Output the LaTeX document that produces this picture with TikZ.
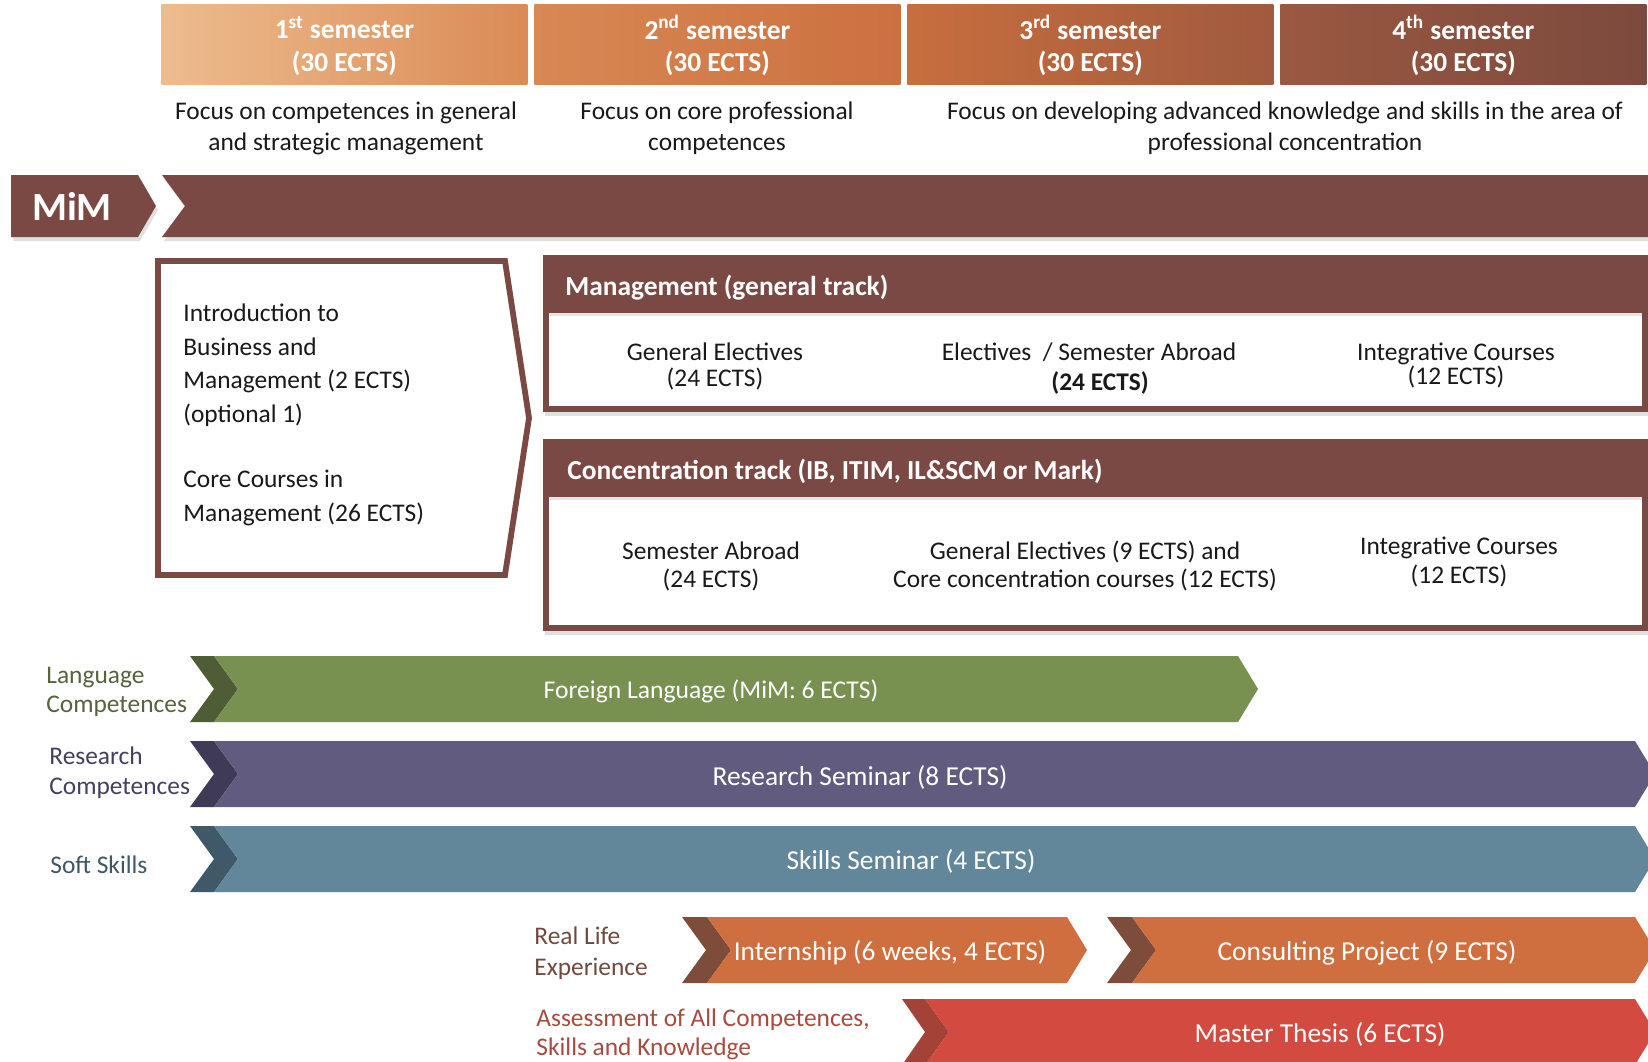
\documentclass[tikz,border=0pt]{standalone}
\usepackage{fontspec}
\setmainfont{Carlito}
\definecolor{mimbrown}{RGB}{123,73,68}
\definecolor{hA}{RGB}{237,188,142}
\definecolor{hB}{RGB}{218,139,86}
\definecolor{hC}{RGB}{216,136,84}
\definecolor{hD}{RGB}{204,112,64}
\definecolor{hE}{RGB}{200,110,62}
\definecolor{hF}{RGB}{160,90,63}
\definecolor{hG}{RGB}{154,88,64}
\definecolor{hH}{RGB}{124,74,62}
\definecolor{green1}{RGB}{120,144,80}
\definecolor{green2}{RGB}{78,93,54}
\definecolor{purple1}{RGB}{97,91,127}
\definecolor{purple2}{RGB}{63,59,86}
\definecolor{blue1}{RGB}{98,135,154}
\definecolor{blue2}{RGB}{63,89,104}
\definecolor{orange1}{RGB}{207,111,63}
\definecolor{orange2}{RGB}{126,76,58}
\definecolor{red1}{RGB}{210,74,64}
\definecolor{red2}{RGB}{163,67,56}
\definecolor{labgreen}{RGB}{86,99,63}
\definecolor{labpurple}{RGB}{69,64,94}
\definecolor{labblue}{RGB}{63,88,104}
\definecolor{labbrown}{RGB}{110,75,62}
\definecolor{labred}{RGB}{166,75,63}
\begin{document}
\begin{tikzpicture}[x=0.5pt,y=-0.5pt,
  bodytxt/.style={font=\fontsize{12.7}{15.3}\selectfont, inner sep=0pt, align=center, text=black!90, yshift=-1.2pt},
  semtxt/.style={font=\fontsize{13.7}{16.3}\selectfont\bfseries, inner sep=0pt, align=center, text=white, yshift=-0.7pt},
  headtxt/.style={font=\fontsize{13.7}{16.3}\selectfont\bfseries, inner sep=0pt, anchor=west, text=white, yshift=-1.2pt},
  bandtxt/.style={font=\fontsize{13.7}{16.3}\selectfont, inner sep=0pt, text=white, yshift=-1.4pt},
  labtxt/.style={font=\fontsize{12.7}{14.5}\selectfont, inner sep=0pt, anchor=west, align=left, yshift=-1.4pt},
  semhead/.style={minimum width=183pt, minimum height=40pt, inner sep=0pt, anchor=north west},
]
\useasboundingbox (0,0) rectangle (1648,1061);
\clip (0,0) rectangle (1648,1061);
\fill[white] (0,0) rectangle (1648,1061);

% semester headers
\node[semhead, left color=hA, right color=hB] (s1) at (161,4) {};
\node[semhead, left color=hC, right color=hD] (s2) at (534,4) {};
\node[semhead, left color=hE, right color=hF] (s3) at (907,4) {};
\node[semhead, left color=hG, right color=hH] (s4) at (1280,4) {};
\node[semtxt] (s1t) at (s1.center) {1\textsuperscript{st} semester\\(30 ECTS)};
\node[semtxt] (s2t) at (s2.center) {2\textsuperscript{nd} semester\\(30 ECTS)};
\node[semtxt] (s3t) at (s3.center) {3\textsuperscript{rd} semester\\(30 ECTS)};
\node[semtxt] (s4t) at (s4.center) {4\textsuperscript{th} semester\\(30 ECTS)};

% focus texts
\node[bodytxt, font=\fontsize{12.7}{15.5}\selectfont] (f1) at (346,126) {Focus on competences in general\\and strategic management};
\node[bodytxt, font=\fontsize{12.7}{15.5}\selectfont] (f2) at (717,126) {Focus on core professional\\competences};
\node[bodytxt, font=\fontsize{12.7}{15.5}\selectfont] (f3) at (1285,126) {Focus on developing advanced knowledge and skills in the area of\\professional concentration};

% MiM band
\fill[black!12] (13,179) -- (140,179) -- (158,210) -- (140,241) -- (13,241) -- cycle;
\fill[black!12] (164,179) -- (1648,179) -- (1648,241) -- (164,241) -- (187,210) -- cycle;
\fill[mimbrown] (11,175) -- (138,175) -- (156,206) -- (138,237) -- (11,237) -- cycle;
\fill[mimbrown] (162,175) -- (1648,175) -- (1648,237) -- (162,237) -- (185,206) -- cycle;
\node[font=\fontsize{20}{24}\selectfont\bfseries, text=white, inner sep=0pt] (mim) at (72,206) {MiM};

% intro box
\draw[mimbrown, line width=2.9pt, line join=miter] (158,261) -- (505,261) -- (529,418) -- (505,575) -- (158,575) -- cycle;
\node[labtxt, anchor=north west, font=\fontsize{12.7}{16.75}\selectfont, text=black!90] (intro) at (183,301)
  {Introduction to\\Business and\\Management (2 ECTS)\\(optional 1)};
\node[labtxt, anchor=north west, font=\fontsize{12.7}{16.75}\selectfont, text=black!90] (core) at (183,467)
  {Core Courses in\\Management (26 ECTS)};

% management box
\fill[black!12] (545,259) rectangle (1648,416);
\fill[mimbrown] (543,255) rectangle (1648,412);
\fill[white] (549,313) rectangle (1642,406);
\fill[black!10] (549,313) rectangle (1642,316);
\node[headtxt] (mgt) at (565,285) {Management (general track)};
\node[bodytxt, font=\fontsize{12.7}{13}\selectfont] (m1) at (715,364) {General Electives\\(24 ECTS)};
\node[bodytxt, font=\fontsize{12.7}{15}\selectfont] (m2) at (1089,366) {Electives \ / Semester Abroad\\\hspace*{11pt}\textbf{(24 ECTS)}};
\node[bodytxt, font=\fontsize{12.7}{12}\selectfont] (m3) at (1456,363) {Integrative Courses\\(12 ECTS)};

% concentration box
\fill[black!12] (545,443) rectangle (1648,635);
\fill[mimbrown] (543,439) rectangle (1648,631);
\fill[white] (549,497) rectangle (1642,625);
\fill[black!10] (549,497) rectangle (1642,500);
\node[headtxt] (conc) at (567,469) {Concentration track (IB, ITIM, IL\&SCM or Mark)};
\node[bodytxt, font=\fontsize{12.7}{14}\selectfont] (c1) at (711,564) {Semester Abroad\\(24 ECTS)};
\node[bodytxt, font=\fontsize{12.7}{14}\selectfont] (c2) at (1085,564) {General Electives (9 ECTS) and\\Core concentration courses (12 ECTS)};
\node[bodytxt, font=\fontsize{12.7}{14.5}\selectfont] (c3) at (1459,560) {Integrative Courses\\(12 ECTS)};

% language band
\fill[green2] (190,656) -- (214,656) -- (238,689) -- (214,722) -- (190,722) -- (214,689) -- cycle;
\fill[green1] (214,656) -- (1238,656) -- (1258,689) -- (1238,722) -- (214,722) -- (238,689) -- cycle;
\node[bandtxt, font=\fontsize{12.8}{15}\selectfont] (lang) at (711,689) {Foreign Language (MiM: 6 ECTS)};
\node[labtxt, text=labgreen] (langl) at (46,689) {Language\\Competences};

% research band
\fill[purple2] (190,741) -- (214,741) -- (238,774) -- (214,807) -- (190,807) -- (214,774) -- cycle;
\fill[purple1] (214,741) -- (1635,741) -- (1655,774) -- (1635,807) -- (214,807) -- (238,774) -- cycle;
\node[bandtxt] (res) at (860,775) {Research Seminar (8 ECTS)};
\node[labtxt, text=labpurple, font=\fontsize{12.7}{15}\selectfont] (resl) at (49,770) {Research\\Competences};

% soft skills band
\fill[blue2] (190,826) -- (214,826) -- (238,859) -- (214,892) -- (190,892) -- (214,859) -- cycle;
\fill[blue1] (214,826) -- (1635,826) -- (1655,859) -- (1635,892) -- (214,892) -- (238,859) -- cycle;
\node[bandtxt] (soft) at (911,859) {Skills Seminar (4 ECTS)};
\node[labtxt, text=labblue] (softl) at (50,862) {Soft Skills};

% real life
\fill[orange2] (682,917) -- (707,917) -- (731,950) -- (707,983) -- (682,983) -- (706,950) -- cycle;
\fill[orange1] (707,917) -- (1067,917) -- (1087,950) -- (1067,983) -- (707,983) -- (731,950) -- cycle;
\node[bandtxt] (intern) at (890,950) {Internship (6 weeks, 4 ECTS)};
\fill[orange2] (1107,917) -- (1132,917) -- (1156,950) -- (1132,983) -- (1107,983) -- (1131,950) -- cycle;
\fill[orange1] (1132,917) -- (1635,917) -- (1655,950) -- (1635,983) -- (1132,983) -- (1156,950) -- cycle;
\node[bandtxt] (consult) at (1367,950) {Consulting Project (9 ECTS)};
\node[labtxt, text=labbrown, font=\fontsize{12.7}{15.5}\selectfont] (reall) at (534,950) {Real Life\\Experience};

% master thesis
\fill[red2] (902,999) -- (925,999) -- (949,1032) -- (925,1065) -- (902,1065) -- (925,1032) -- cycle;
\fill[red1] (925,999) -- (1635,999) -- (1655,1032) -- (1635,1065) -- (925,1065) -- (949,1032) -- cycle;
\node[bandtxt] (thesis) at (1320,1032) {Master Thesis (6 ECTS)};
\node[labtxt, text=labred] (assl) at (536,1032) {Assessment of All Competences,\\Skills and Knowledge};
\end{tikzpicture}
\end{document}
